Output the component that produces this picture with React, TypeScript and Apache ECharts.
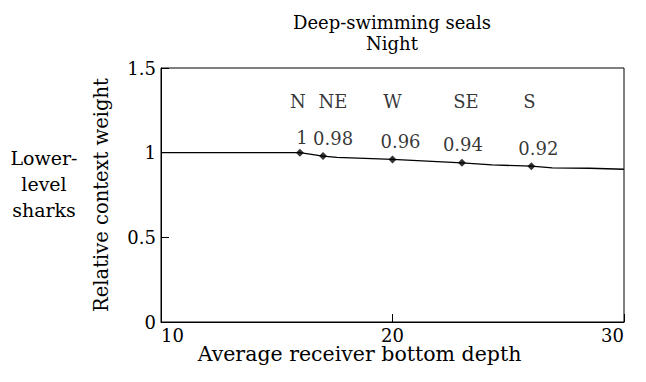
import React, { useEffect, useRef } from "react";
import * as echarts from "echarts";

// Depth (x) vs. relative context weight (y) along the traced curve
const curveDepth = [10, 16, 17, 17.6, 20, 23, 24.3, 26, 26.9, 28.5, 30];
const curveWeight = [1, 1, 0.98, 0.972, 0.96, 0.94, 0.928, 0.92, 0.91, 0.908, 0.902];

// Marked receivers
const receiverNames = ["N", "NE", "W", "SE", "S"];
const receiverDepth = [16, 17, 20, 23, 26];
const receiverWeight = [1, 0.98, 0.96, 0.94, 0.92];

// Row height at which receiver names are printed
const nameRow = 1.3;

const xTicks = [10, 20, 30];
const yTicks = [0, 0.5, 1, 1.5];

const FONT = "DejaVu Serif";

export default function App() {
  const ref = useRef<HTMLDivElement>(null);

  useEffect(() => {
    if (!ref.current) return;
    const chart = echarts.init(ref.current, null, { renderer: "svg" });

    // small horizontal nudges so labels don't crowd each other
    const valueDx = [2, 10, 8, 1, 7];
    const valueDy = [3, 0, 0, 0, 0];
    const nameDx = [-2, 10, 0, 4, -2];

    const txt = { fontFamily: FONT, fontSize: 18, color: "#000" };

    chart.setOption({
      animation: false,
      backgroundColor: "#fff",
      grid: {
        left: 161,
        top: 68,
        width: 463,
        height: 254,
        show: true,
        borderColor: "#000",
        borderWidth: 1,
      },
      xAxis: {
        type: "value",
        min: xTicks[0],
        max: xTicks[xTicks.length - 1],
        interval: 10,
        name: "Average receiver bottom depth",
        nameLocation: "middle",
        nameGap: 22,
        nameMoveOverlap: false,
        nameTextStyle: {
          ...txt,
          fontSize: 20.5,
          lineHeight: 20,
          padding: [0, 66, 0, 0],
        },
        axisLine: { lineStyle: { color: "#000", width: 1 } },
        axisTick: { inside: true, length: 8, lineStyle: { color: "#000" } },
        axisLabel: {
          ...txt,
          lineHeight: 16,
          margin: 5,
          alignMinLabel: "left",
          alignMaxLabel: "right",
        },
        splitLine: { show: false },
      },
      yAxis: {
        type: "value",
        min: yTicks[0],
        max: yTicks[yTicks.length - 1],
        interval: 0.5,
        name: "Relative context weight",
        nameLocation: "middle",
        nameGap: 50,
        nameMoveOverlap: false,
        nameTextStyle: { ...txt, fontSize: 19.5 },
        axisLine: { show: true, lineStyle: { color: "#000", width: 1 } },
        axisTick: { show: true, inside: true, length: 8, lineStyle: { color: "#000" } },
        axisLabel: { ...txt, margin: 5 },
        splitLine: { show: false },
      },
      graphic: [
        {
          type: "text",
          x: 392,
          y: 12,
          style: {
            text: "Deep-swimming seals\nNight",
            font: `18px '${FONT}'`,
            fill: "#000",
            textAlign: "center",
            lineHeight: 21,
          },
        },
        {
          type: "text",
          x: 44,
          y: 184,
          style: {
            text: "Lower-\nlevel\nsharks",
            font: `19px '${FONT}'`,
            fill: "#000",
            textAlign: "center",
            textVerticalAlign: "middle",
            lineHeight: 26,
          },
        },
      ],
      series: [
        {
          type: "line",
          data: curveDepth.map((d, i) => [d, curveWeight[i]]),
          symbol: "none",
          lineStyle: { color: "#000", width: 1.3 },
          z: 2,
        },
        {
          type: "scatter",
          data: receiverDepth.map((d, i) => ({
            value: [d, receiverWeight[i]],
            label: { offset: [valueDx[i], valueDy[i]] },
          })),
          symbol: "diamond",
          symbolSize: 8,
          itemStyle: { color: "#000" },
          label: {
            show: true,
            position: "top",
            distance: 5,
            ...txt,
            formatter: (p: any) => String(p.value[1]),
          },
          z: 3,
        },
        {
          type: "scatter",
          data: receiverDepth.map((d, i) => ({
            value: [d, nameRow],
            name: receiverNames[i],
            label: { offset: [nameDx[i], 0] },
          })),
          symbolSize: 0,
          itemStyle: { color: "transparent" },
          label: {
            show: true,
            position: "inside",
            ...txt,
            formatter: (p: any) => p.name,
          },
          silent: true,
          z: 3,
        },
      ],
    });

    return () => chart.dispose();
  }, []);

  return (
    <div
      ref={ref}
      style={{ position: "fixed", left: 0, top: 0, width: 646, height: 382 }}
    />
  );
}
